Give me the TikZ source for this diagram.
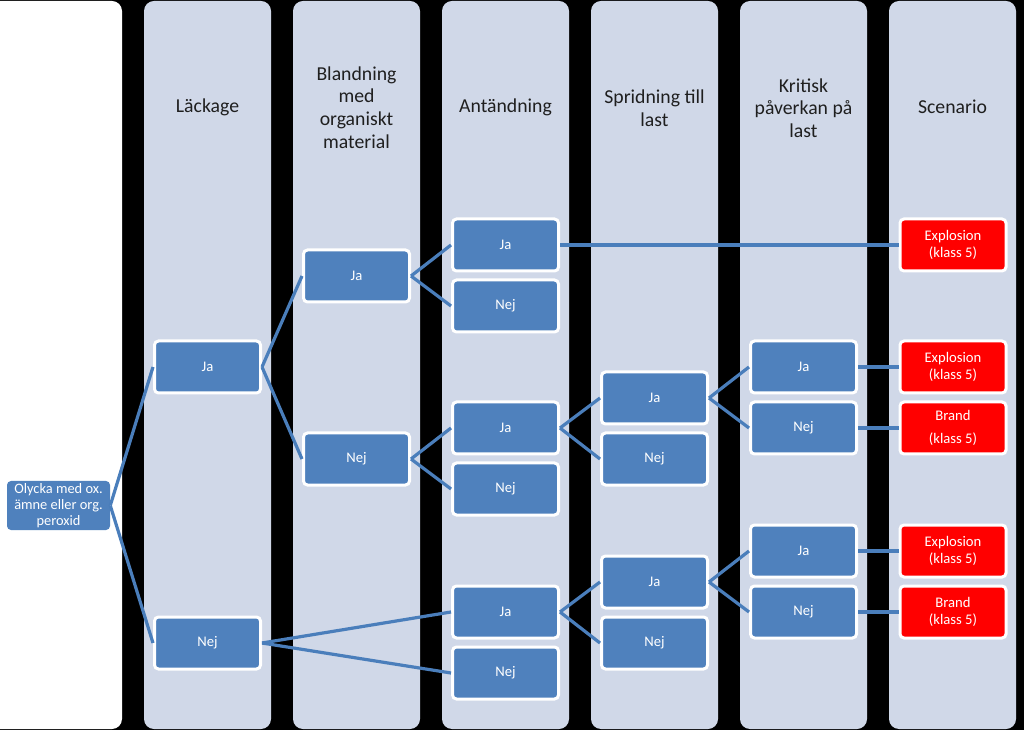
\documentclass[tikz,border=0pt]{standalone}
\usepackage{fontspec}
\setmainfont{Carlito}
\definecolor{lanefill}{HTML}{D0D8E8}
\definecolor{boxblue}{HTML}{4F81BD}
\definecolor{linkblue}{HTML}{4A7EBB}
\definecolor{boxred}{HTML}{FF0000}
\begin{document}
\begin{tikzpicture}[x=0.75pt,y=-0.75pt,
    lane/.style={fill=lanefill,rounded corners=7.5pt},
    head/.style={align=center,text=black!88,font=\fontsize{14.8}{17}\selectfont},
    start/.style={fill=boxblue,rounded corners=3pt,minimum width=77.25pt,minimum height=36.75pt,inner sep=0.5pt,text=white,align=center,font=\fontsize{10.8}{12}\selectfont},
    choice/.style={fill=boxblue,draw=white,line width=2.25pt,rounded corners=3pt,minimum width=79.5pt,minimum height=39pt,inner sep=1pt,text=white,align=center,font=\fontsize{11}{12.8}\selectfont},
    outcome/.style={choice,fill=boxred},
    link/.style={draw=linkblue,line width=2.4pt}]
        %% black page, everything outside is cut away
        \fill[black] (0,0) rectangle (1024,730);
        \clip (0,0) rectangle (1024,730);
        %% the lanes, the first one is white and runs off the left edge
        \fill[lane,fill=white] (-20,1) rectangle (122,729);
        \fill[lane] (144,1) rectangle (271,729);
        \fill[lane] (293,1) rectangle (420,729);
        \fill[lane] (442,1) rectangle (569,729);
        \fill[lane] (591,1) rectangle (718,729);
        \fill[lane] (740,1) rectangle (867,729);
        \fill[lane] (889,1) rectangle (1016,729);
        %% lane headings
        \node[head] (hLack) at (207.5,107) {Läckage};
        \node[head] (hBland) at (356.5,107.5) {Blandning\\med\\organiskt\\material};
        \node[head] (hAnt) at (505.5,107) {Antändning};
        \node[head] (hSprid) at (654.5,108) {Spridning till\\last};
        \node[head] (hKrit) at (803.5,108) {Kritisk\\påverkan på\\last};
        \node[head] (hScen) at (952.5,107) {Scenario};
        %% the event tree
        \node[start] (root) at (58.5,505.5) {Olycka med ox.\\ämne eller org.\\peroxid};
        \node[choice] (lJa) at (207.5,367) {Ja};
        \node[choice] (lNej) at (207.5,643) {Nej};
        \node[choice] (bJa) at (356.5,276) {Ja};
        \node[choice] (bNej) at (356.5,459) {Nej};
        \node[choice] (aJa1) at (505.5,245) {Ja};
        \node[choice] (aNej1) at (505.5,306) {Nej};
        \node[choice] (aJa2) at (505.5,428) {Ja};
        \node[choice] (aNej2) at (505.5,489) {Nej};
        \node[choice] (aJa3) at (505.5,612) {Ja};
        \node[choice] (aNej3) at (505.5,673) {Nej};
        \node[choice] (sJa1) at (654.5,398) {Ja};
        \node[choice] (sNej1) at (654.5,459) {Nej};
        \node[choice] (sJa2) at (654.5,582) {Ja};
        \node[choice] (sNej2) at (654.5,643) {Nej};
        \node[choice] (kJa1) at (803.5,367) {Ja};
        \node[choice] (kNej1) at (803.5,428) {Nej};
        \node[choice] (kJa2) at (803.5,551) {Ja};
        \node[choice] (kNej2) at (803.5,612) {Nej};
        \node[outcome] (scen1) at (953,245) {Explosion\\(klass 5)};
        \node[outcome] (scen2) at (953,367) {Explosion\\(klass 5)};
        \node[outcome] (scen3) at (953,428) {Brand\\[5pt](klass 5)};
        \node[outcome] (scen4) at (953,551) {Explosion\\(klass 5)};
        \node[outcome] (scen5) at (953,612) {Brand\\(klass 5)};
        %% branches
        \draw[link] (root.east) -- (lJa.west);
        \draw[link] (root.east) -- (lNej.west);
        \draw[link] (lJa.east) -- (bJa.west);
        \draw[link] (lJa.east) -- (bNej.west);
        \draw[link] (lNej.east) -- (aJa3.west);
        \draw[link] (lNej.east) -- (aNej3.west);
        \draw[link] (bJa.east) -- (aJa1.west);
        \draw[link] (bJa.east) -- (aNej1.west);
        \draw[link] (bNej.east) -- (aJa2.west);
        \draw[link] (bNej.east) -- (aNej2.west);
        \draw[link] (aJa1.east) -- (scen1.west);
        \draw[link] (aJa2.east) -- (sJa1.west);
        \draw[link] (aJa2.east) -- (sNej1.west);
        \draw[link] (aJa3.east) -- (sJa2.west);
        \draw[link] (aJa3.east) -- (sNej2.west);
        \draw[link] (sJa1.east) -- (kJa1.west);
        \draw[link] (sJa1.east) -- (kNej1.west);
        \draw[link] (sJa2.east) -- (kJa2.west);
        \draw[link] (sJa2.east) -- (kNej2.west);
        \draw[link] (kJa1.east) -- (scen2.west);
        \draw[link] (kNej1.east) -- (scen3.west);
        \draw[link] (kJa2.east) -- (scen4.west);
        \draw[link] (kNej2.east) -- (scen5.west);
\end{tikzpicture}
\end{document}
